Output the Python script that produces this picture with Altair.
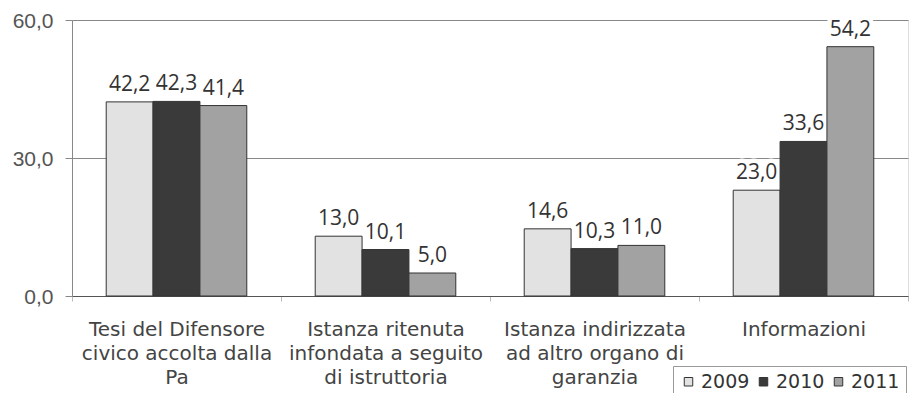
import altair as alt
import pandas as pd

categories = [
    "Tesi del Difensore|civico accolta dalla|Pa",
    "Istanza ritenuta|infondata a seguito|di istruttoria",
    "Istanza indirizzata|ad altro organo di|garanzia",
    "Informazioni",
]
years = ["2009", "2010", "2011"]
v2009 = [42.2, 13.0, 14.6, 23.0]
v2010 = [42.3, 10.1, 10.3, 33.6]
v2011 = [41.4, 5.0, 11.0, 54.2]
y_ticks = [0, 30, 60]

rows = []
for yr, vals in zip(years, [v2009, v2010, v2011]):
    for c, v in zip(categories, vals):
        rows.append({"cat": c, "year": yr, "value": v})
df = pd.DataFrame(rows)

WIDE = "DejaVu Sans"
NARROW = "Open Sans"
AXISF = "Liberation Sans"

x = alt.X("cat:N", sort=categories, title=None,
          scale=alt.Scale(paddingInner=0, paddingOuter=0),
          axis=alt.Axis(labelExpr="split(datum.label, '|')", labelAngle=0,
                        labelFontSize=20, labelColor="#444", labelFont=WIDE,
                        labelLineHeight=24, labelPadding=18, labelBaseline="top",
                        tickBand="extent", tickSize=5, tickColor="#bbb",
                        domainColor="#555", labelLimit=300))
xo = alt.XOffset("year:N", sort=years,
                 scale=alt.Scale(paddingOuter=0.73, paddingInner=0))
y = alt.Y("value:Q", title=None,
          scale=alt.Scale(domain=[0, 60], nice=False),
          axis=alt.Axis(values=y_ticks, grid=True, gridColor="#888",
                        labelExpr="replace(format(datum.value, '.1f'), '.', ',')",
                        labelFontSize=21, labelColor="#555", labelFont=AXISF,
                        labelOffset=1,
                        tickSize=7, tickColor="#888", domainColor="#888",
                        labelPadding=12))

color = alt.Color("year:N", sort=years,
                  scale=alt.Scale(domain=years, range=["#e2e2e2", "#3a3a3a", "#a2a2a2"]),
                  legend=alt.Legend(title=None, orient="none", direction="horizontal",
                                    legendX=601, legendY=346,
                                    symbolType="square", symbolSize=72,
                                    symbolStrokeColor="#333", symbolStrokeWidth=1,
                                    labelFontSize=19, labelColor="#333", labelFont=WIDE,
                                    columnPadding=4, labelOffset=3,
                                    strokeColor="#999", padding=6, fillColor="white"))

base = alt.Chart(df).encode(x=x, xOffset=xo)

bars = base.mark_bar(stroke="#333", strokeWidth=1).encode(y=y, color=color)

lab_expr = "replace(format(datum.value, '.1f'), '.', ',')"
halo = base.transform_calculate(lab=lab_expr).mark_text(
    baseline="alphabetic", dy=-11, fontSize=21, font=NARROW, stroke="white",
    strokeWidth=9, fill="white").encode(y="value:Q", text="lab:N")
labels = base.transform_calculate(lab=lab_expr).mark_text(
    baseline="alphabetic", dy=-11, fontSize=21, font=NARROW, color="#333").encode(
    y="value:Q", text="lab:N")

chart = alt.layer(halo, bars, labels).properties(
    width=836, height=276,
    autosize=alt.AutoSizeParams(type="none"),
    padding={"left": 64, "top": 12, "right": 1, "bottom": 97},
).configure_view(stroke="#888").configure(background="white")

chart.save("out.html", embed_options={"renderer": "svg", "actions": False})
